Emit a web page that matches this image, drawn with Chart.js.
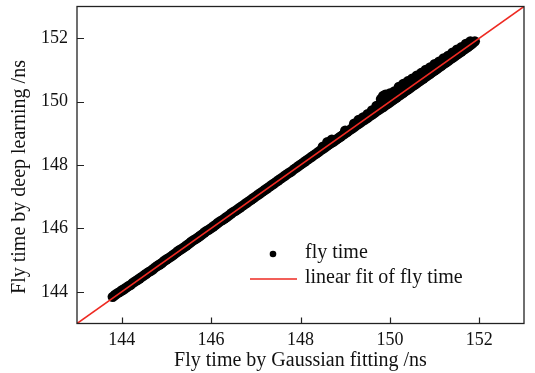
<!DOCTYPE html>
<html>
<head>
<meta charset="utf-8">
<script src="https://cdn.jsdelivr.net/npm/chart.js@4/dist/chart.umd.min.js"></script>
<style>
  html, body { margin: 0; padding: 0; background: #fff; }
  #wrap { width: 535px; height: 373px; }
</style>
</head>
<body>
<div id="wrap"><canvas id="c" width="535" height="373"></canvas></div>
<script>
// ---- data ----
const tickVals = [144, 146, 148, 150, 152];
const axisMin = 143;
const axisMax = 153;

// main band of points (fly time)
const bandX = [143.8,143.9,144.0,144.1,144.2,144.3,144.4,144.5,144.6,144.7,144.8,144.9,
  145.0,145.1,145.2,145.3,145.4,145.5,145.6,145.7,145.8,145.9,
  146.0,146.1,146.2,146.3,146.4,146.5,146.6,146.7,146.8,146.9,
  147.0,147.1,147.2,147.3,147.4,147.5,147.6,147.7,147.8,147.9,
  148.0,148.1,148.2,148.3,148.4,148.5,148.6,148.7,148.8,148.9,
  149.0,149.1,149.2,149.3,149.4,149.5,149.6,149.7,149.8,149.9,
  150.0,150.1,150.2,150.3,150.4,150.5,150.6,150.7,150.8,150.9,
  151.0,151.1,151.2,151.3,151.4,151.5,151.6,151.7,151.8,151.9];
const bandY = [143.84,143.95,144.04,144.13,144.22,144.33,144.42,144.52,144.62,144.71,144.82,144.91,
  145.02,145.11,145.21,145.32,145.41,145.51,145.62,145.71,145.81,145.92,
  146.01,146.11,146.22,146.31,146.41,146.52,146.61,146.71,146.81,146.91,
  147.01,147.11,147.21,147.31,147.41,147.51,147.61,147.71,147.80,147.91,
  148.01,148.11,148.21,148.31,148.41,148.51,148.61,148.71,148.80,148.90,
  149.00,149.10,149.20,149.30,149.40,149.49,149.59,149.69,149.79,149.88,
  149.98,150.08,150.18,150.28,150.38,150.48,150.58,150.68,150.78,150.88,
  150.98,151.08,151.18,151.28,151.38,151.48,151.58,151.68,151.78,151.90];

// points in between the main band points (fill the band)
const midX = [143.85,143.95,144.05,144.15,144.25,144.35,144.45,144.55,144.65,144.75,144.85,144.95,
  145.05,145.15,145.25,145.35,145.45,145.55,145.65,145.75,145.85,145.95,
  146.05,146.15,146.25,146.35,146.45,146.55,146.65,146.75,146.85,146.95,
  147.05,147.15,147.25,147.35,147.45,147.55,147.65,147.75,147.85,147.95,
  148.05,148.15,148.25,148.35,148.45,148.55,148.65,148.75,148.85,148.95,
  149.05,149.15,149.25,149.35,149.45,149.55,149.65,149.75,149.85,149.95,
  150.05,150.15,150.25,150.35,150.45,150.55,150.65,150.75,150.85,150.95,
  151.05,151.15,151.25,151.35,151.45,151.55,151.65,151.75,151.85];
const midY = [143.90,143.99,144.08,144.18,144.28,144.37,144.47,144.57,144.66,144.77,144.86,144.97,
  145.06,145.16,145.27,145.36,145.46,145.57,145.66,145.76,145.87,145.96,
  146.06,146.17,146.26,146.36,146.47,146.56,146.66,146.76,146.86,146.96,
  147.06,147.16,147.26,147.36,147.46,147.56,147.66,147.76,147.86,147.96,
  148.06,148.16,148.26,148.36,148.46,148.56,148.66,148.75,148.85,148.95,
  149.05,149.15,149.25,149.35,149.44,149.54,149.64,149.74,149.83,149.93,
  150.03,150.13,150.23,150.33,150.43,150.53,150.63,150.73,150.83,150.93,
  151.03,151.13,151.23,151.33,151.43,151.53,151.63,151.73,151.84];

// upper scatter of points above the fit (upper part of the band)
const upperX = [148.5,148.6,148.7,149.0,149.2,149.3,149.4,149.5,149.6,149.7,149.8,149.85,
  149.9,150.0,150.1,150.2,150.3,150.4,150.5,150.6,150.7,150.8,150.9,
  151.0,151.1,151.2,151.3,151.4,151.5,151.6,151.7,151.8];
const upperY = [148.58,148.72,148.80,149.08,149.30,149.42,149.50,149.60,149.72,149.86,150.08,150.18,
  150.22,150.26,150.32,150.46,150.56,150.64,150.72,150.82,150.90,151.00,151.08,
  151.18,151.26,151.36,151.44,151.54,151.64,151.72,151.82,151.90];

// linear fit of fly time
const fitX = [143, 153];
const fitY = [143, 153];

const seriesNames = ['fly time', 'linear fit of fly time'];
const xTitle = 'Fly time by Gaussian fitting /ns';
const yTitle = 'Fly time by deep learning /ns';

// ---- build ----
const flyPoints = bandX.map((x, i) => ({x, y: bandY[i]}))
  .concat(midX.map((x, i) => ({x, y: midY[i]})))
  .concat(upperX.map((x, i) => ({x, y: upperY[i]})));
const fitPoints = fitX.map((x, i) => ({x, y: fitY[i]}));

const FONT = 'Liberation Serif';

const frameTicks = {
  id: 'frameTicks',
  afterDatasetsDraw(chart) {
    const {ctx, chartArea: a, scales} = chart;
    ctx.save();
    ctx.strokeStyle = '#222';
    ctx.lineWidth = 1.3;
    ctx.strokeRect(a.left, a.top, a.right - a.left, a.bottom - a.top);
    ctx.lineWidth = 1.2;
    ctx.beginPath();
    scales.x.ticks.forEach(t => {
      const px = Math.round(scales.x.getPixelForValue(t.value)) + 0.5;
      ctx.moveTo(px, a.bottom);
      ctx.lineTo(px, a.bottom - 6);
    });
    scales.y.ticks.forEach(t => {
      const py = Math.round(scales.y.getPixelForValue(t.value)) + 0.5;
      ctx.moveTo(a.left, py);
      ctx.lineTo(a.left + 7, py);
    });
    ctx.stroke();
    ctx.restore();
  },
  afterDraw(chart) {
    const {ctx} = chart;
    ctx.save();
    ctx.font = '20px "' + FONT + '"';
    ctx.fillStyle = '#111';
    ctx.textAlign = 'center';
    ctx.textBaseline = 'middle';
    ctx.translate(20, 177);
    ctx.rotate(-Math.PI / 2);
    ctx.fillText(yTitle, 0, 0);
    ctx.restore();
  }
};

const legendBox = {
  id: 'legendBox',
  afterDraw(chart) {
    const {ctx} = chart;
    const ds = chart.data.datasets;
    ctx.save();
    ctx.font = '20px "' + FONT + '"';
    ctx.textBaseline = 'middle';
    ctx.beginPath();
    ctx.arc(273, 254, 3.3, 0, Math.PI * 2);
    ctx.fillStyle = ds[0].backgroundColor;
    ctx.fill();
    ctx.fillStyle = '#111';
    ctx.fillText(ds[0].label, 305, 253);
    ctx.strokeStyle = ds[1].borderColor;
    ctx.lineWidth = 1.6;
    ctx.beginPath();
    ctx.moveTo(250, 279);
    ctx.lineTo(297, 279);
    ctx.stroke();
    ctx.fillText(ds[1].label, 305, 278);
    ctx.restore();
  }
};

new Chart(document.getElementById('c'), {
  type: 'scatter',
  data: {
    datasets: [
      {
        label: seriesNames[0],
        data: flyPoints,
        backgroundColor: '#000',
        borderColor: '#000',
        borderWidth: 0,
        pointRadius: 5.2,
        pointHoverRadius: 5.2,
        order: 2
      },
      {
        label: seriesNames[1],
        type: 'line',
        data: fitPoints,
        borderColor: '#ee2a22',
        backgroundColor: '#ee2a22',
        borderWidth: 1.6,
        pointRadius: 0,
        fill: false,
        order: 1
      }
    ]
  },
  options: {
    responsive: false,
    animation: false,
    events: [],
    layout: { padding: { top: 6.5, right: 11, left: 0, bottom: 0 } },
    plugins: {
      legend: { display: false },
      tooltip: { enabled: false }
    },
    scales: {
      x: {
        type: 'linear',
        min: axisMin,
        max: axisMax,
        afterBuildTicks: s => { s.ticks = tickVals.map(v => ({value: v})); },
        afterFit: s => { s.height = 49.5; s.paddingLeft = 0; s.paddingRight = 0; },
        grid: { display: false, drawTicks: false },
        border: { display: false },
        ticks: {
          padding: 6,
          color: '#111',
          font: { family: FONT, size: 18 },
          maxRotation: 0
        },
        title: {
          display: true,
          text: xTitle,
          color: '#111',
          font: { family: FONT, size: 20 },
          padding: { top: 0, bottom: 0 }
        }
      },
      y: {
        type: 'linear',
        min: axisMin,
        max: axisMax,
        afterBuildTicks: s => { s.ticks = tickVals.map(v => ({value: v})); },
        afterFit: s => { s.width = 77; s.paddingTop = 0; s.paddingBottom = 0; },
        grid: { display: false, drawTicks: false },
        border: { display: false },
        ticks: {
          padding: 9,
          color: '#111',
          font: { family: FONT, size: 18 }
        },
        title: { display: false }
      }
    }
  },
  plugins: [frameTicks, legendBox]
});
</script>
</body>
</html>
